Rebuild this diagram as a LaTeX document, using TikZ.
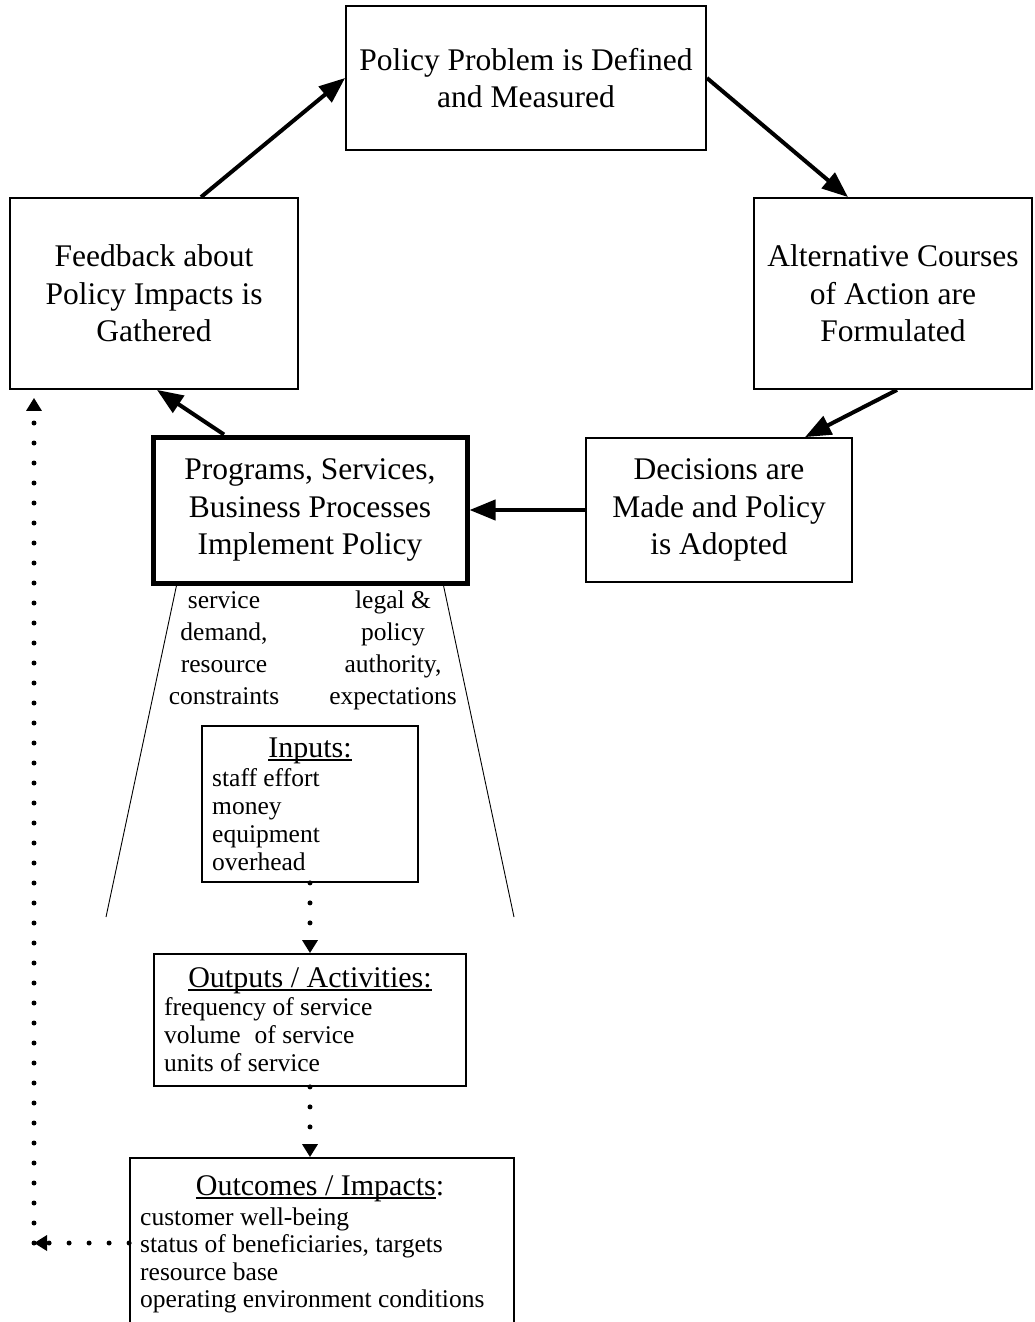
\documentclass[tikz,border=0pt]{standalone}
\usepackage{fontspec}
\setmainfont{Liberation Serif}
\usetikzlibrary{arrows.meta}
\newcommand\ulx[1]{\setbox0\hbox{#1}\rlap{\rule[-3.5pt]{\wd0}{1.5pt}}\box0}
\begin{document}
\begin{tikzpicture}[x=1pt,y=-1pt,
  box/.style={draw, line width=1.8pt, inner sep=0pt, align=center, font=\fontsize{31.5}{37.5}\selectfont},
  bigbox/.style={box, line width=5pt},
  flow/.style={line width=4pt, -{Triangle[length=26pt,width=20pt]}},
  dots/.style={line width=5pt, line cap=round, dash pattern=on 0pt off 20pt},
  dotarrow/.style={dots, -{Triangle[length=13pt,width=15pt]}},
  edgeline/.style={line width=0.9pt},
  item/.style={inner sep=0pt, anchor=base west, font=\fontsize{25.5}{28}\selectfont},
  heading/.style={inner sep=0pt, anchor=base, font=\fontsize{30}{36}\selectfont},
  sidetext/.style={inner sep=0pt, anchor=base, font=\fontsize{25.5}{32}\selectfont}
]
\path[use as bounding box, clip] (0,0) rectangle (1034,1322);

% cycle boxes
\node[box, minimum width=360pt, minimum height=144pt] (top) at (526,78) {Policy Problem is Defined\\and Measured};
\node[box, minimum width=288pt, minimum height=191pt] (feedback) at (154,293.5) {Feedback about\\Policy Impacts is\\Gathered};
\node[box, minimum width=278pt, minimum height=191pt] (alt) at (893,293.5) {Alternative Courses\\of Action are\\Formulated};
\node[box, minimum width=266pt, minimum height=144pt] (decisions) at (719,510) {Decisions are\\Made and Policy\\is Adopted};
\node[bigbox, minimum width=314pt, minimum height=146pt] (prog) at (310,510) {Programs, Services,\\Business Processes\\Implement Policy};

% cycle arrows
\draw[flow] ([xshift=47pt]feedback.north) -- (top.west);
\draw[flow] (top.east) -- ([xshift=-45pt]alt.north);
\draw[flow] ([xshift=4pt]alt.south) -- ([xshift=86pt]decisions.north);
\draw[flow] (decisions.west) -- (prog.east);
\draw[flow] ([xshift=-86pt]prog.north) -- ([xshift=3pt]feedback.south);

% funnel lines
\coordinate (trapL) at (106,917);
\coordinate (trapR) at (514,917);
\draw[edgeline] ([xshift=26pt]prog.south west) -- (trapL);
\draw[edgeline] ([xshift=-26pt]prog.south east) -- (trapR);

% side texts
\foreach \t [count=\i] in {service, {demand,}, resource, constraints}
  \node[sidetext] (sl\i) at (224,{608+32*(\i-1)}) {\t};
\foreach \t [count=\i] in {{legal \&}, policy, {authority,}, expectations}
  \node[sidetext] (sr\i) at (393,{608+32*(\i-1)}) {\t};

% lower boxes
\node[box, minimum width=216pt, minimum height=156pt] (inputs) at (310,804) {};
\node[box, minimum width=312pt, minimum height=132pt] (outputs) at (310,1020) {};
\node[box, minimum width=384pt, minimum height=190pt] (outcomes) at (322,1253) {};

\node[heading] (inh) at (310,757) {\ulx{Inputs:}};
\foreach \t [count=\i] in {staff effort, money, equipment, overhead}
  \node[item] (in\i) at (212,{786+28*(\i-1)}) {\t};

\node[heading] (outh) at (310,987) {\ulx{Outputs / Activities:}};
\foreach \t [count=\i] in {frequency of service, {volume\hspace{0.3em} of service}, units of service}
  \node[item] (out\i) at (164,{1015+28*(\i-1)}) {\t};

\node[heading] (ocmh) at (320,1195) {\ulx{Outcomes / Impacts}:};
\foreach \t [count=\i] in {customer well-being, {status of beneficiaries, targets}, resource base, operating environment conditions}
  \node[item] (ocm\i) at (140,{1225+27.5*(\i-1)}) {\t};

% dotted flows
\draw[dotarrow] (inputs.south) -- (outputs.north);
\draw[dotarrow] (outputs.south) -- (outputs.south |- outcomes.north);
\coordinate (corner) at (34,1243);
\draw[dotarrow] (outcomes.west |- corner) -- (corner);
\draw[dotarrow, shorten >=8pt] (corner) -- (corner |- feedback.south);
\end{tikzpicture}
\end{document}
